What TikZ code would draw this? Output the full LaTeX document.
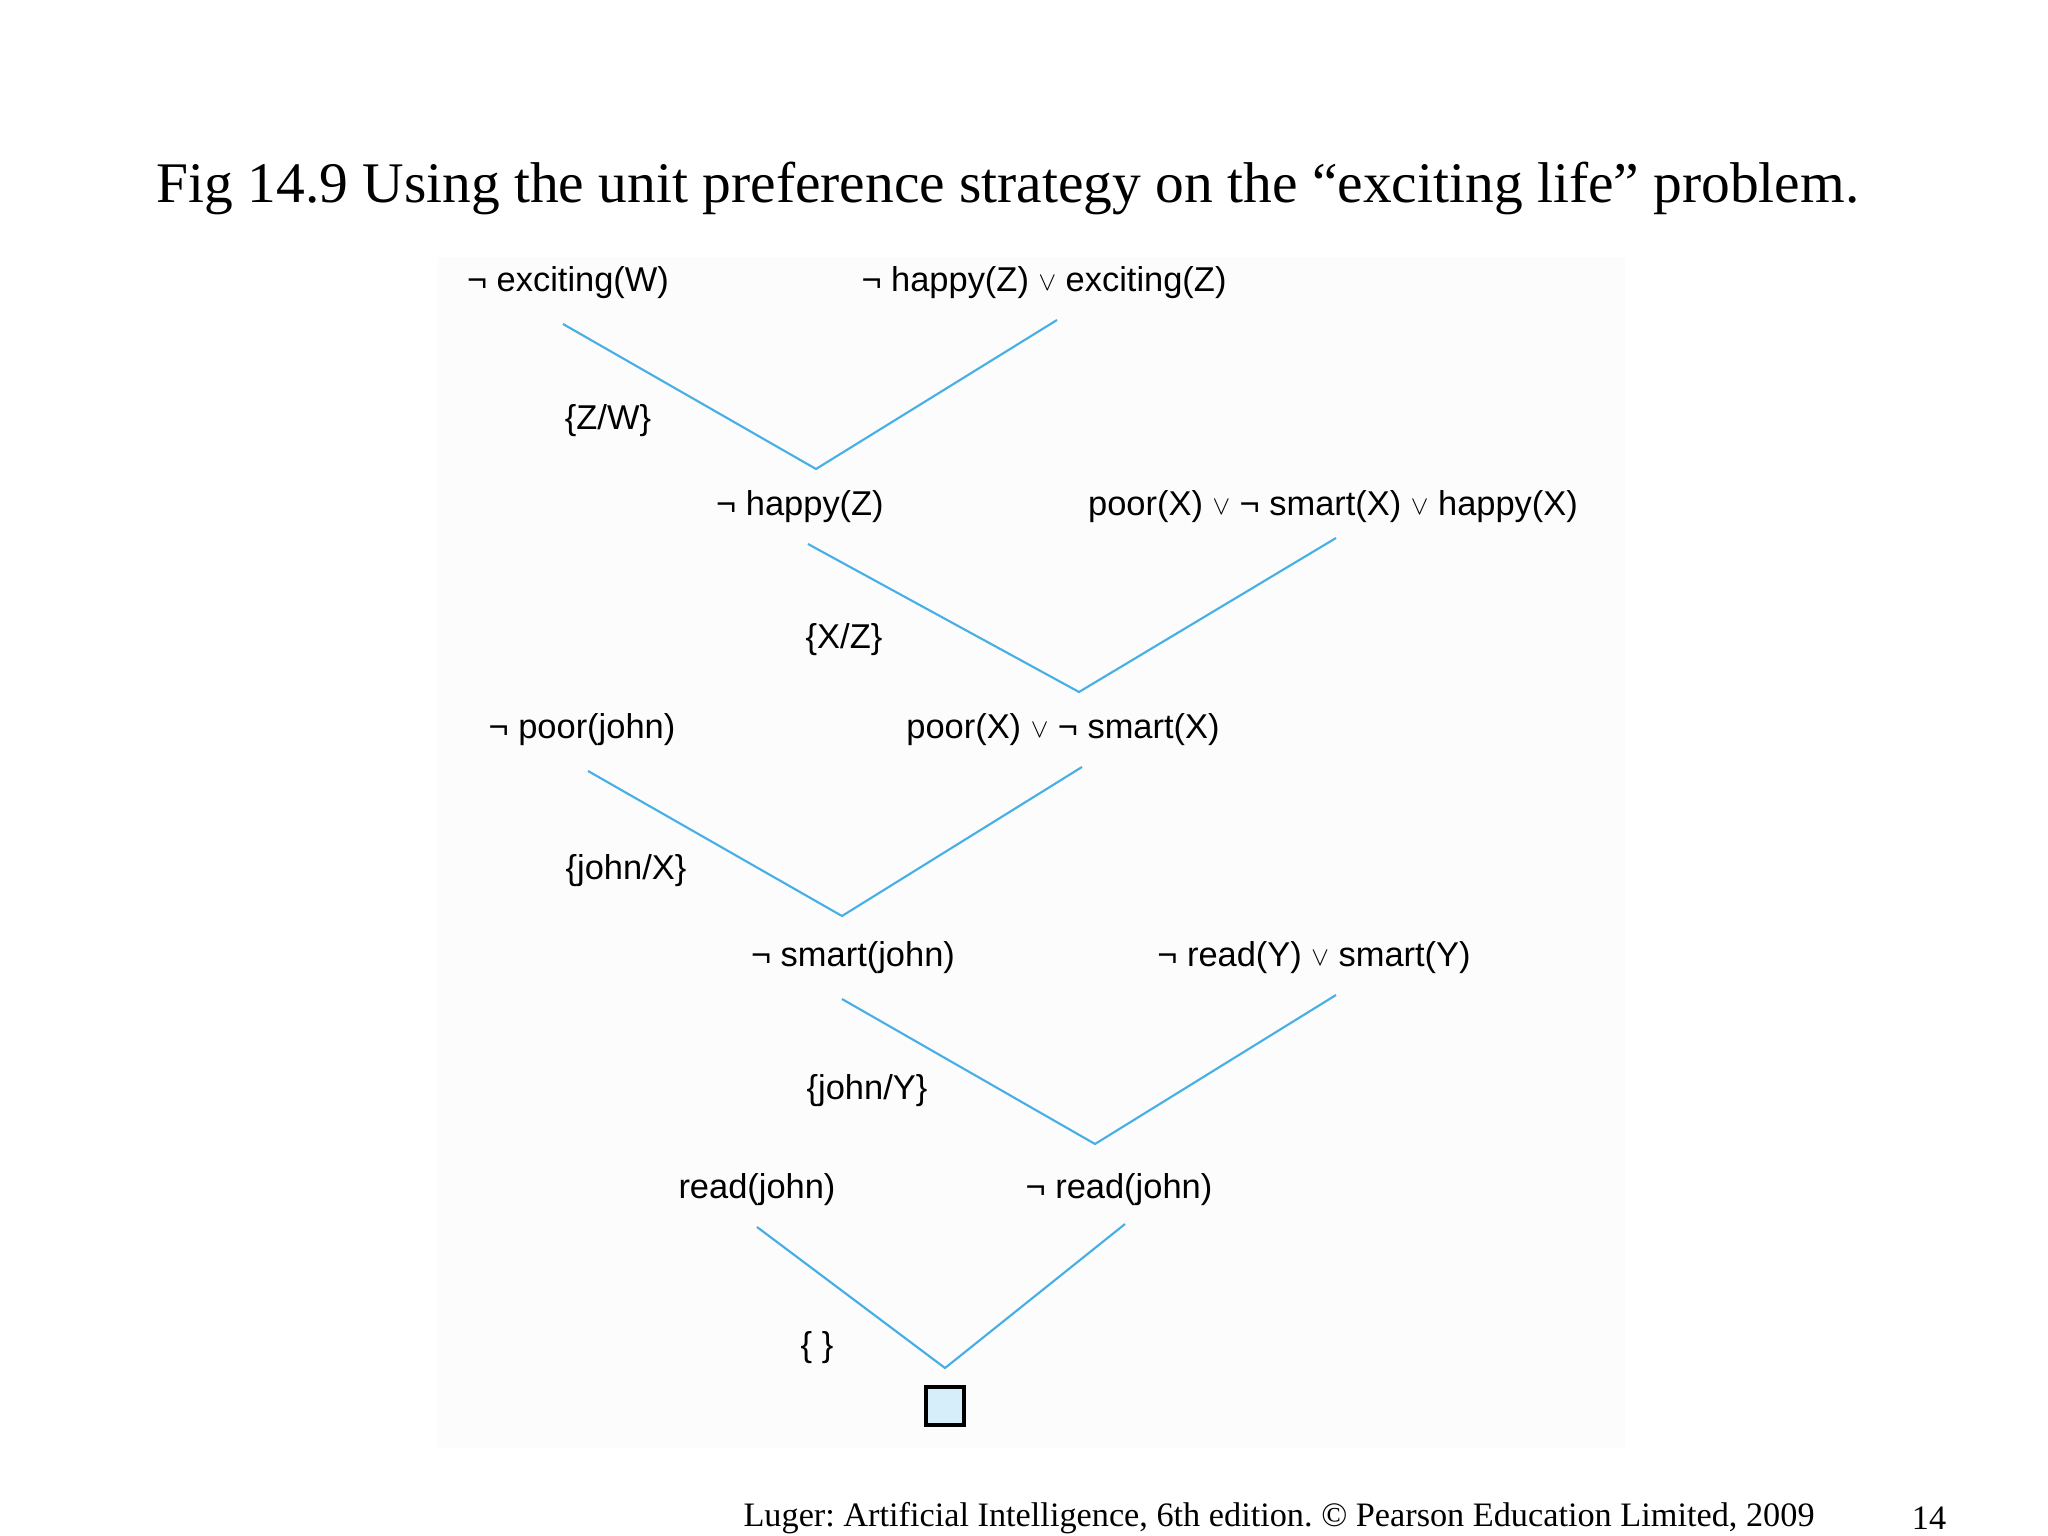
\documentclass[tikz,border=0pt]{standalone}
\usepackage{fontspec}
\setmainfont{Liberation Serif}
\setsansfont{Liberation Sans}
\usepackage{xcolor}
\usepackage{tikz}
\usetikzlibrary{positioning,calc}
\definecolor{linkblue}{RGB}{70,175,230}
\definecolor{boxblue}{RGB}{214,238,250}
\newcommand{\orsym}{\;\raisebox{0.1ex}{\scalebox{0.75}{$\vee$}}\;}
\tikzset{clause/.style={font=\sffamily\fontsize{9.8}{12}\selectfont, inner sep=1pt},
         link/.style={draw=linkblue, line width=0.6pt}}
\frenchspacing

\begin{document}
\begin{tikzpicture}
    \useasboundingbox (0,0) rectangle (20.48,-15.36);
    \fill[black!1] (4.38,-2.57) rectangle (16.25,-14.48);

    \node[font=\fontsize{16.35}{20}\selectfont] at (10.08,-1.88) (title) {Fig 14.9 Using the unit preference strategy on the “exciting life” problem.};

    \node[clause] at (5.68,-2.83) (exc) {¬ exciting(W)};
    \node[clause] at (10.44,-2.83) (hapexc) {¬ happy(Z)\orsym exciting(Z)};
    \node[clause] at (6.08,-4.21) (s1) {\{Z/W\}};

    \node[clause] at (8.00,-5.07) (hap) {¬ happy(Z)};
    \node[clause] at (13.33,-5.07) (poorsmarthap) {poor(X)\orsym ¬ smart(X)\orsym happy(X)};
    \node[clause] at (8.44,-6.40) (s2) {\{X/Z\}};

    \node[clause] at (5.82,-7.30) (poorj) {¬ poor(john)};
    \node[clause] at (10.63,-7.30) (poorsmart) {poor(X)\orsym ¬ smart(X)};
    \node[clause] at (6.26,-8.71) (s3) {\{john/X\}};

    \node[clause] at (8.53,-9.58) (smartj) {¬ smart(john)};
    \node[clause] at (13.14,-9.58) (readsmart) {¬ read(Y)\orsym smart(Y)};
    \node[clause] at (8.67,-10.91) (s4) {\{john/Y\}};

    \node[clause] at (7.57,-11.90) (readj) {read(john)};
    \node[clause] at (11.19,-11.90) (nreadj) {¬ read(john)};
    \node[clause] at (8.17,-13.48) (s5) {\{ \}};

    \node[draw, line width=1.1pt, fill=boxblue, minimum size=0.38cm, inner sep=0pt] at (9.45,-14.06) (empty) {};

    \node[font=\fontsize{9.75}{12}\selectfont] at (12.79,-15.18) (credit) {Luger: Artificial Intelligence, 6th edition. © Pearson Education Limited, 2009};
    \node[font=\fontsize{9.75}{12}\selectfont] at (19.29,-15.18) (page) {14};

    % line ends
    \coordinate (exc-b) at (5.63,-3.24);
    \coordinate (hapexc-b) at (10.57,-3.20);
    \coordinate (v1) at (8.16,-4.69);
    \coordinate (hap-b) at (8.08,-5.44);
    \coordinate (poorsmarthap-b) at (13.36,-5.38);
    \coordinate (v2) at (10.79,-6.92);
    \coordinate (poorj-b) at (5.88,-7.71);
    \coordinate (poorsmart-b) at (10.82,-7.67);
    \coordinate (v3) at (8.42,-9.16);
    \coordinate (smartj-b) at (8.42,-9.99);
    \coordinate (readsmart-b) at (13.36,-9.95);
    \coordinate (v4) at (10.95,-11.44);
    \coordinate (readj-b) at (7.57,-12.27);
    \coordinate (nreadj-b) at (11.25,-12.24);
    \coordinate (v5) at (9.45,-13.68);

    \draw[link] (exc-b) -- (v1) -- (hapexc-b);
    \draw[link] (hap-b) -- (v2) -- (poorsmarthap-b);
    \draw[link] (poorj-b) -- (v3) -- (poorsmart-b);
    \draw[link] (smartj-b) -- (v4) -- (readsmart-b);
    \draw[link] (readj-b) -- (v5) -- (nreadj-b);
\end{tikzpicture}
\end{document}
